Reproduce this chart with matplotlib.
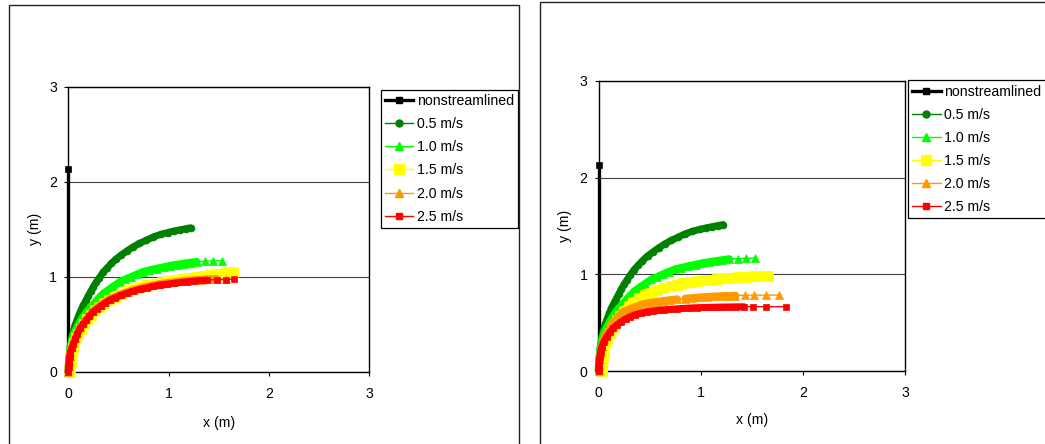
import numpy as np
import matplotlib
matplotlib.use("Agg")
import matplotlib.pyplot as plt
from matplotlib.lines import Line2D
from matplotlib.patches import Rectangle

plt.rcParams["font.family"] = ["Liberation Sans", "DejaVu Sans"]

# ---- data: trajectories, x and y in metres ----
labels = ["nonstreamlined", "0.5 m/s", "1.0 m/s", "1.5 m/s", "2.0 m/s", "2.5 m/s"]
ticks = [0, 1, 2, 3]

ns_x = [0.0, 0.0]
ns_y = [0.0, 2.13]

v05_x = [0.000, 0.002, 0.006, 0.012, 0.020, 0.032, 0.048, 0.067, 0.085, 0.105, 0.127, 0.150,
         0.175, 0.200, 0.225, 0.250, 0.280, 0.310, 0.350, 0.390, 0.430, 0.480, 0.530, 0.590,
         0.650, 0.710, 0.780, 0.850, 0.920, 0.990, 1.050, 1.110, 1.170, 1.220]
v05_y = [0.000, 0.060, 0.130, 0.200, 0.270, 0.350, 0.420, 0.490, 0.540, 0.595, 0.650, 0.700,
         0.750, 0.800, 0.850, 0.895, 0.945, 0.990, 1.050, 1.095, 1.140, 1.190, 1.230, 1.275,
         1.316, 1.350, 1.385, 1.420, 1.445, 1.465, 1.480, 1.493, 1.505, 1.515]

v10_x = [0.000, 0.003, 0.008, 0.015, 0.025, 0.037, 0.050, 0.070, 0.095, 0.120, 0.150, 0.184,
         0.220, 0.260, 0.300, 0.350, 0.400, 0.460, 0.516, 0.570, 0.630, 0.690, 0.750, 0.810,
         0.880, 0.950, 1.015, 1.080, 1.150, 1.210, 1.280, 1.365, 1.447, 1.530]
v10_y = [0.000, 0.070, 0.140, 0.210, 0.270, 0.330, 0.386, 0.430, 0.480, 0.530, 0.580, 0.632,
         0.675, 0.720, 0.770, 0.825, 0.862, 0.905, 0.947, 0.972, 1.000, 1.027, 1.053, 1.068,
         1.085, 1.101, 1.116, 1.127, 1.138, 1.148, 1.158, 1.163, 1.166, 1.168]

# first case
a15_x = [0.017, 0.019, 0.022, 0.027, 0.034, 0.045, 0.060, 0.080, 0.100, 0.125, 0.155, 0.190,
         0.230, 0.270, 0.310, 0.360, 0.410, 0.470, 0.530, 0.590, 0.650, 0.720, 0.790, 0.860,
         0.930, 1.000, 1.070, 1.140, 1.210, 1.280, 1.350, 1.420, 1.490, 1.560, 1.600, 1.647]
a15_y = [0.000, 0.050, 0.100, 0.150, 0.200, 0.250, 0.300, 0.350, 0.400, 0.450, 0.500, 0.550,
         0.600, 0.645, 0.680, 0.720, 0.755, 0.790, 0.820, 0.845, 0.870, 0.890, 0.910, 0.925,
         0.940, 0.955, 0.968, 0.980, 0.990, 1.000, 1.010, 1.020, 1.030, 1.040, 1.046, 1.053]

a20_x = [0.000, 0.002, 0.006, 0.012, 0.020, 0.034, 0.050, 0.070, 0.090, 0.117, 0.150, 0.180,
         0.210, 0.250, 0.290, 0.330, 0.370, 0.416, 0.470, 0.530, 0.590, 0.650, 0.720, 0.790,
         0.850, 0.915, 0.980, 1.050, 1.120, 1.180, 1.250, 1.320, 1.400, 1.480, 1.570]
a20_y = [0.000, 0.060, 0.110, 0.160, 0.210, 0.258, 0.300, 0.352, 0.407, 0.469, 0.512, 0.552,
         0.597, 0.644, 0.677, 0.707, 0.737, 0.767, 0.792, 0.817, 0.840, 0.862, 0.880, 0.897,
         0.911, 0.925, 0.934, 0.943, 0.952, 0.959, 0.965, 0.970, 0.975, 0.978, 0.980]

a25_x = [0.000, 0.002, 0.006, 0.012, 0.020, 0.034, 0.050, 0.070, 0.090, 0.117, 0.150, 0.180,
         0.210, 0.250, 0.290, 0.330, 0.370, 0.416, 0.470, 0.530, 0.590, 0.650, 0.720, 0.790,
         0.850, 0.915, 0.980, 1.050, 1.120, 1.180, 1.250, 1.320, 1.380, 1.480, 1.570, 1.654]
a25_y = [0.000, 0.050, 0.100, 0.150, 0.200, 0.246, 0.290, 0.340, 0.395, 0.457, 0.500, 0.540,
         0.585, 0.632, 0.665, 0.695, 0.725, 0.755, 0.780, 0.805, 0.828, 0.850, 0.868, 0.885,
         0.899, 0.913, 0.922, 0.931, 0.940, 0.947, 0.954, 0.960, 0.965, 0.968, 0.968, 0.976]

# second case
b15_x = [0.030, 0.032, 0.036, 0.042, 0.050, 0.056, 0.064, 0.085, 0.110, 0.140, 0.178, 0.210,
         0.250, 0.295, 0.340, 0.400, 0.460, 0.510, 0.570, 0.630, 0.700, 0.770, 0.830, 0.900,
         0.970, 1.040, 1.100, 1.157, 1.220, 1.290, 1.370, 1.450, 1.520, 1.590, 1.661]
b15_y = [0.000, 0.050, 0.100, 0.150, 0.200, 0.245, 0.286, 0.335, 0.390, 0.450, 0.527, 0.570,
         0.620, 0.670, 0.717, 0.755, 0.785, 0.810, 0.838, 0.856, 0.875, 0.892, 0.907, 0.918,
         0.927, 0.937, 0.944, 0.951, 0.957, 0.963, 0.969, 0.975, 0.978, 0.980, 0.982]

b20_x = [0.000, 0.004, 0.010, 0.020, 0.035, 0.055, 0.080, 0.113, 0.145, 0.175, 0.210, 0.243,
         0.290, 0.340, 0.390, 0.438, 0.500, 0.570, 0.630, 0.700, 0.770, 0.850, 0.920, 0.993,
         1.060, 1.130, 1.200, 1.270, 1.340, 1.433, 1.522, 1.636, 1.769]
b20_y = [0.000, 0.060, 0.120, 0.190, 0.260, 0.330, 0.400, 0.476, 0.510, 0.545, 0.580, 0.613,
         0.635, 0.656, 0.675, 0.693, 0.705, 0.716, 0.725, 0.734, 0.742, 0.750, 0.756, 0.762,
         0.767, 0.771, 0.775, 0.778, 0.781, 0.785, 0.785, 0.785, 0.785]

b25_x = [0.000, 0.002, 0.006, 0.012, 0.020, 0.032, 0.050, 0.080, 0.110, 0.140, 0.178, 0.220,
         0.265, 0.308, 0.360, 0.415, 0.472, 0.530, 0.590, 0.645, 0.700, 0.770, 0.830, 0.900,
         0.961, 1.030, 1.090, 1.160, 1.221, 1.290, 1.350, 1.424, 1.509, 1.639, 1.835]
b25_y = [0.000, 0.050, 0.100, 0.150, 0.200, 0.250, 0.300, 0.355, 0.400, 0.440, 0.476, 0.508,
         0.537, 0.562, 0.582, 0.598, 0.613, 0.622, 0.629, 0.634, 0.638, 0.643, 0.648, 0.652,
         0.655, 0.657, 0.659, 0.661, 0.662, 0.663, 0.664, 0.665, 0.665, 0.665, 0.665]

case_a = [(ns_x, ns_y), (v05_x, v05_y), (v10_x, v10_y),
          (a15_x, a15_y), (a20_x, a20_y), (a25_x, a25_y)]
case_b = [(ns_x, ns_y), (v05_x, v05_y), (v10_x, v10_y),
          (b15_x, b15_y), (b20_x, b20_y), (b25_x, b25_y)]

# ---- styles ----
styles = [
    dict(color="black", marker="s", lw=2.4, ms=4.5),
    dict(color="#008000", marker="o", lw=1.0, ms=5.0),
    dict(color="#00FF00", marker="^", lw=1.0, ms=5.5),
    dict(color="#FFFF00", marker="s", lw=1.0, ms=6.5),
    dict(color="#FF9900", marker="^", lw=1.0, ms=5.5),
    dict(color="#FF0000", marker="s", lw=1.0, ms=5.0),
]
FS = 10.2
DENSE_PX = 8.05   # closely spaced samples merge into a solid stroke

W, H = 1045, 444
fig = plt.figure(figsize=(W / 100, H / 100), dpi=100)


def px_box(left, top, right, bottom):
    return [left / W, 1 - bottom / H, (right - left) / W, (bottom - top) / H]


# outer chart frames
for l, t, r, b in [(9, 5, 518.5, 460), (539.5, 2, 1070, 460)]:
    fig.add_artist(Rectangle((l / W, 1 - b / H), (r - l) / W, (b - t) / H,
                             transform=fig.transFigure, fill=False,
                             edgecolor="#222222", lw=1.0, clip_on=False))


def draw_series(ax, x, y, st):
    x = np.asarray(x, float)
    y = np.asarray(y, float)
    pts = ax.transData.transform(np.column_stack([x, y]))
    seg = np.hypot(*np.diff(pts, axis=0).T)
    dense = seg < DENSE_PX
    i, n = 0, len(seg)
    while i < n:
        if dense[i]:
            j = i
            while j < n and dense[j]:
                j += 1
            ax.plot(x[i:j + 1], y[i:j + 1], color=st["color"], lw=st["ms"],
                    solid_capstyle="round", solid_joinstyle="round",
                    clip_on=False, zorder=3)
            i = j
        else:
            i += 1
    ax.plot(x, y, color=st["color"], lw=st["lw"], marker=st["marker"],
            ms=st["ms"], mfc=st["color"], mec=st["color"], mew=0.5,
            clip_on=False, zorder=3)


def draw_chart(ax, series, legend_xy, xlab_y, ylab_x):
    ax.set_xlim(0, 3)
    ax.set_ylim(0, 3)
    for (x, y), st in zip(series, styles):
        draw_series(ax, x, y, st)
    ax.set_xticks(ticks)
    ax.set_yticks(ticks)
    ax.tick_params(direction="out", length=3, width=0.8, labelsize=FS,
                   top=False, right=False)
    ax.tick_params(axis="x", pad=8)
    ax.tick_params(axis="y", pad=5)
    for s in ax.spines.values():
        s.set_linewidth(1.0)
        s.set_color("black")
    ax.yaxis.grid(True, color="#404040", lw=0.8)
    ax.set_axisbelow(True)
    ax.set_xlabel("x (m)", fontsize=FS)
    ax.set_ylabel("y (m)", fontsize=FS)
    ax.xaxis.set_label_coords(0.5, xlab_y)
    ax.yaxis.set_label_coords(ylab_x, 0.5)

    handles = [Line2D([], [], color=st["color"], lw=st["lw"], marker=st["marker"],
                      ms=st["ms"], mfc=st["color"], mec=st["color"])
               for st in styles]
    leg = ax.legend(handles, labels, loc="upper left",
                    bbox_to_anchor=(legend_xy[0] / W, 1 - legend_xy[1] / H),
                    bbox_transform=fig.transFigure, borderaxespad=0,
                    frameon=True, fancybox=False, shadow=False,
                    edgecolor="black", framealpha=1, fontsize=FS,
                    handlelength=2.0, handletextpad=0.25, borderpad=0.3,
                    labelspacing=0.64)
    leg.get_frame().set_linewidth(0.9)


ax_a = fig.add_axes(px_box(68.3, 86.7, 369, 371.7))
draw_chart(ax_a, case_a, (380.7, 90), -0.155, -0.089)

ax_b = fig.add_axes(px_box(598.5, 81, 905, 371))
draw_chart(ax_b, case_b, (908, 80.5), -0.145, -0.085)

fig.savefig("out.png", dpi=100)
